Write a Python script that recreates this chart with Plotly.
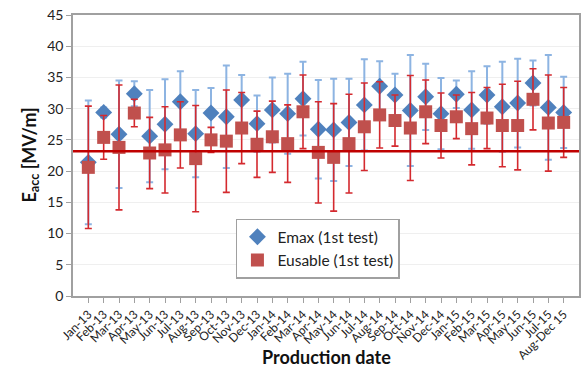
import plotly.graph_objects as go

categories = ["Jan-13", "Feb-13", "Mar-13", "Apr-13", "May-13", "Jun-13", "Jul-13", "Aug-13",
              "Sep-13", "Oct-13", "Nov-13", "Dec-13", "Jan-14", "Feb-14", "Mar-14", "Apr-14",
              "May-14", "Jun-14", "Jul-14", "Aug-14", "Sep-14", "Oct-14", "Nov-14", "Dec-14",
              "Jan-15", "Feb-15", "Mar-15", "Apr-15", "May-15", "Jun-15", "Jul-15", "Aug-Dec 15"]

emax = [21.4, 29.4, 25.9, 32.4, 25.6, 27.5, 31.1, 26.0, 29.3, 28.7, 31.4, 27.6, 29.8, 29.2, 31.6, 26.7,
        26.6, 27.8, 30.6, 33.6, 32.2, 29.7, 31.9, 29.2, 32.3, 29.8, 32.2, 30.3, 30.9, 34.1, 30.2, 29.4]
emax_err = [9.9, 0.8, 8.6, 2.0, 7.4, 7.2, 4.9, 7.0, 4.0, 8.2, 4.0, 4.5, 5.2, 6.4, 5.9, 7.9,
            8.2, 7.0, 7.3, 4.0, 3.4, 8.9, 5.3, 5.7, 2.2, 6.2, 4.6, 7.2, 7.1, 3.6, 8.4, 5.7]

eusable = [20.6, 25.4, 23.8, 29.3, 22.9, 23.4, 25.8, 22.0, 25.0, 24.8, 26.9, 24.3, 25.5, 24.4, 29.5, 23.0,
           22.2, 24.4, 27.1, 29.0, 28.1, 26.9, 29.5, 27.3, 28.7, 26.8, 28.5, 27.3, 27.3, 31.5, 27.7, 27.8]
eusable_err = [9.8, 3.5, 10.0, 2.2, 5.7, 6.9, 5.3, 8.5, 2.0, 8.2, 5.7, 5.3, 5.7, 6.2, 5.9, 8.1,
               8.6, 7.9, 7.0, 5.3, 4.1, 8.4, 5.1, 5.2, 3.5, 5.8, 4.9, 6.6, 7.1, 4.9, 7.7, 5.6]

threshold = 23.2

FONT = "Lato, 'Open Sans', Arial, sans-serif"

fig = go.Figure()
fig.add_trace(go.Scatter(
    x=categories, y=emax, mode="markers", name="Emax (1st test)",
    marker=dict(symbol="diamond", size=13, color="#4F81BD"),
    error_y=dict(type="data", array=emax_err, visible=True, color="#8DB4E2", thickness=2, width=3.5),
))
fig.add_trace(go.Scatter(
    x=categories, y=eusable, mode="markers", name="Eusable (1st test)",
    marker=dict(symbol="square", size=13, color="#C0504D"),
    error_y=dict(type="data", array=eusable_err, visible=True, color="#D42A2F", thickness=1.6, width=3.5),
))
fig.add_hline(y=threshold, line=dict(color="#C00000", width=2.5), layer="above")

fig.add_annotation(text="<b>Production date</b>", xref="paper", yref="paper", x=0.5, y=0,
                   yshift=-61, xanchor="center", yanchor="middle", showarrow=False,
                   font=dict(size=18, family=FONT, color="#111"))
fig.add_annotation(text="<b>E<sub>acc</sub> [MV/m]</b>", xref="paper", yref="paper", x=0, y=0.5,
                   xshift=-43, xanchor="center", yanchor="middle", textangle=-90, showarrow=False,
                   font=dict(size=18, family=FONT, color="#111"))

fig.update_layout(
    width=584, height=371,
    margin=dict(l=73, r=5, t=15, b=75),
    paper_bgcolor="white", plot_bgcolor="white",
    font=dict(family=FONT, color="#222"),
    showlegend=True,
    legend=dict(x=0.322, y=0.275, xanchor="left", yanchor="top",
                bgcolor="white", bordercolor="#A0A0A0", borderwidth=1.5,
                font=dict(size=15.5, family=FONT, color="#222"),
                itemwidth=30, tracegroupgap=6),
    xaxis=dict(
        type="category", range=[-1, 32], tickangle=-45, automargin=False,
        tickfont=dict(size=12, family=FONT, color="#222"),
        ticks="outside", ticklen=5, tickcolor="#A0A0A0",
        showline=True, linecolor="#A0A0A0", linewidth=1.5, mirror=True,
        showgrid=False, ticklabeloverflow="allow",
    ),
    yaxis=dict(
        range=[0, 45], dtick=5, automargin=False,
        tickfont=dict(size=14, family=FONT, color="#222"),
        ticks="outside", ticklen=5, tickcolor="#A0A0A0",
        showline=True, linecolor="#A0A0A0", linewidth=1.5, mirror=True,
        showgrid=True, gridcolor="#EFEFEF", gridwidth=1,
        zeroline=False, ticklabeloverflow="allow",
    ),
)

# remove the browser's default 8px body margin so the 584x371 figure fills the window exactly
fig.write_html("out.html", config={"displayModeBar": False},
               post_script="document.body.style.margin='0';")
